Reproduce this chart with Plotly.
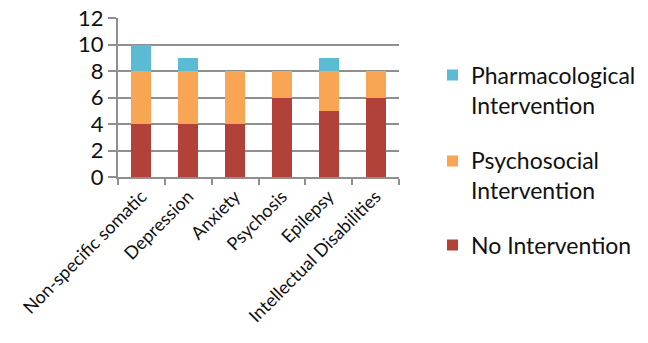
import plotly.graph_objects as go

categories = ["Non-specific somatic", "Depression", "Anxiety", "Psychosis",
              "Epilepsy", "Intellectual Disabilities"]
no_intervention = [4, 4, 4, 6, 5, 6]
psychosocial = [4, 4, 4, 2, 3, 2]
pharmacological = [2, 1, 0, 0, 1, 0]
y_ticks = [0, 2, 4, 6, 8, 10, 12]

FONT = "Lato, 'Open Sans', sans-serif"
GRID = "#8f8f8f"
TEXT = "#111111"

W, H = 648, 343
M_L, M_R, M_T, M_B = 118, 249, 18, 166
PLOT_W = W - M_L - M_R
PLOT_H = H - M_T - M_B


def px_x(px):
    return (px - M_L) / PLOT_W


def px_y(py):
    return (H - M_B - py) / PLOT_H


series = [
    ("No Intervention", no_intervention, "#b2413a"),
    ("Psychosocial<br>Intervention", psychosocial, "#f8a653"),
    ("Pharmacological<br>Intervention", pharmacological, "#5abbd2"),
]

fig = go.Figure()
for name, vals, color in series:
    fig.add_trace(go.Bar(
        x=categories, y=vals, name=name,
        marker=dict(color=color, line=dict(width=0)),
    ))

# Legend drawn on the right: topmost stack segment first
legend_rows = [(series[2], 90), (series[1], 175), (series[0], 245)]
key_centres = [75, 161, 245]
for ((name, _, color), text_y), key_y in zip(legend_rows, key_centres):
    fig.add_shape(
        type="rect", xref="paper", yref="paper",
        x0=px_x(447), x1=px_x(458), y0=px_y(key_y + 5.5), y1=px_y(key_y - 5.5),
        fillcolor=color, line=dict(width=0),
    )
    fig.add_annotation(
        xref="paper", yref="paper", x=px_x(469), y=px_y(text_y),
        xanchor="left", yanchor="middle", align="left", showarrow=False,
        text=name, font=dict(size=23, family=FONT, color=TEXT),
    )

fig.update_layout(
    barmode="stack",
    bargap=0.57,
    width=W, height=H,
    margin=dict(l=M_L, r=M_R, t=M_T, b=M_B),
    paper_bgcolor="white", plot_bgcolor="white",
    font=dict(family=FONT, color=TEXT),
    showlegend=False,
    xaxis=dict(
        tickangle=-45, tickfont=dict(size=18, family=FONT, color=TEXT),
        showline=True, linecolor=GRID, linewidth=2,
        ticks="outside", ticklen=6, tickcolor=GRID, tickwidth=1.5,
        tickson="boundaries", showgrid=False, automargin=False,
    ),
    yaxis=dict(
        range=[0, 12], tickvals=y_ticks,
        tickfont=dict(size=22, family=FONT, color=TEXT),
        showline=True, linecolor=GRID, linewidth=2,
        ticks="outside", ticklen=8, tickcolor=GRID, tickwidth=1.5,
        showgrid=True, gridcolor=GRID, gridwidth=1.5, zeroline=False,
        automargin=False,
    ),
)

fig.write_html("out.html")
